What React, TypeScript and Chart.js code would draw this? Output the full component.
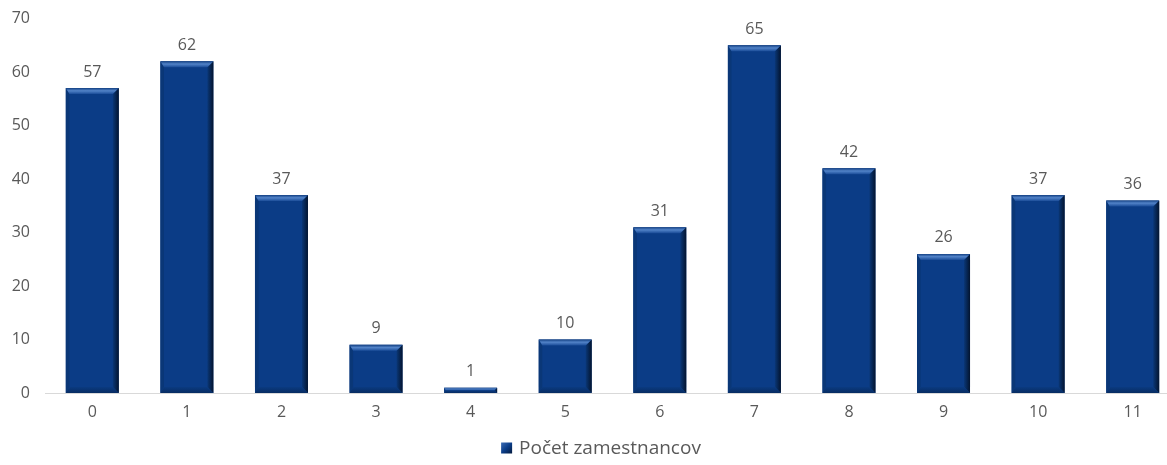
import React, { useEffect, useRef } from "react";
import { Chart, registerables } from "chart.js";

Chart.register(...registerables);

const categories = ["0", "1", "2", "3", "4", "5", "6", "7", "8", "9", "10", "11"];
const employees = [57, 62, 37, 9, 1, 10, 31, 65, 42, 26, 37, 36];
const seriesLabel = "Počet zamestnancov";
const yTicksMax = 70;
const yStep = 10;

const FONT = "'Open Sans', 'Noto Sans', sans-serif";
const TEXT = "#595959";

const bevelPlugin = {
  id: "bevel",
  afterDatasetsDraw(chart: any) {
    const ctx = chart.ctx;
    const meta = chart.getDatasetMeta(0);
    meta.data.forEach((bar: any, i: number) => {
      const w = bar.width;
      const l = bar.x - w / 2;
      const r = bar.x + w / 2;
      const t = bar.y;
      const btm = bar.base;
      const h = btm - t;
      const b = Math.min(6, h / 2);
      ctx.save();
      // left
      ctx.beginPath();
      ctx.moveTo(l, t); ctx.lineTo(l + b * 0.6, t + b); ctx.lineTo(l + b * 0.6, btm - b); ctx.lineTo(l, btm); ctx.closePath();
      ctx.fillStyle = "#0a3777";
      ctx.fill();
      // right
      const gr = ctx.createLinearGradient(r - b, 0, r, 0);
      gr.addColorStop(0, "#0a3777");
      gr.addColorStop(1, "#03142f");
      ctx.beginPath();
      ctx.moveTo(r, t); ctx.lineTo(r, btm); ctx.lineTo(r - b, btm - b); ctx.lineTo(r - b, t + b); ctx.closePath();
      ctx.fillStyle = gr;
      ctx.fill();
      // bottom
      const gb = ctx.createLinearGradient(0, btm - b, 0, btm);
      gb.addColorStop(0, "#0a3a80");
      gb.addColorStop(1, "#072c62");
      ctx.beginPath();
      ctx.moveTo(l, btm); ctx.lineTo(r, btm); ctx.lineTo(r - b, btm - b); ctx.lineTo(l + b * 0.6, btm - b); ctx.closePath();
      ctx.fillStyle = gb;
      ctx.fill();
      // top
      const gt = ctx.createLinearGradient(0, t, 0, t + b);
      gt.addColorStop(0, "#123f82");
      gt.addColorStop(0.45, "#5283c8");
      gt.addColorStop(1, "#1a4c98");
      ctx.beginPath();
      ctx.moveTo(l, t); ctx.lineTo(r, t); ctx.lineTo(r - b, t + b); ctx.lineTo(l + b * 0.6, t + b); ctx.closePath();
      ctx.fillStyle = gt;
      ctx.fill();
      // value label
      ctx.fillStyle = TEXT;
      ctx.font = `16px ${FONT}`;
      ctx.textAlign = "center";
      ctx.textBaseline = "middle";
      ctx.fillText(String(employees[i]), bar.x, t - 16);
      ctx.restore();
    });
    // legend
    ctx.save();
    ctx.font = `19px ${FONT}`;
    const tw = ctx.measureText(seriesLabel).width;
    const box = 11;
    const gap = 7;
    const total = box + gap + tw;
    const cx = 601;
    const x0 = cx - total / 2;
    const cy = 448;
    const g = ctx.createLinearGradient(x0, cy - box / 2, x0 + box, cy + box / 2);
    g.addColorStop(0, "#3c6db5");
    g.addColorStop(0.5, "#0b3d88");
    g.addColorStop(1, "#041a3d");
    ctx.fillStyle = g;
    ctx.fillRect(x0, cy - box / 2, box, box);
    ctx.fillStyle = TEXT;
    ctx.textAlign = "left";
    ctx.textBaseline = "middle";
    ctx.fillText(seriesLabel, x0 + box + gap, cy + 1);
    ctx.restore();
  },
};

export default function App() {
  const ref = useRef<HTMLCanvasElement | null>(null);
  useEffect(() => {
    if (!ref.current) return;
    const chart = new Chart(ref.current, {
      type: "bar",
      data: {
        labels: categories,
        datasets: [
          {
            label: seriesLabel,
            data: employees,
            backgroundColor: "#0b3c86",
            borderWidth: 0,
            categoryPercentage: 1,
            barPercentage: 0.56,
          },
        ],
      },
      options: {
        responsive: false,
        animation: false,
        events: [],
        layout: { padding: { left: 0, right: 20, top: 18.5, bottom: 0 } },
        plugins: { legend: { display: false }, tooltip: { enabled: false } },
        scales: {
          x: {
            grid: { display: false, drawTicks: false },
            border: { display: true, color: "#d9d9d9", width: 1 },
            ticks: { color: TEXT, font: { family: FONT, size: 16 }, padding: 10 },
            afterFit(scale: any) {
              scale.height = 72;
              scale.paddingLeft = 0;
              scale.paddingRight = 0;
            },
          },
          y: {
            min: 0,
            max: yTicksMax,
            grid: { display: false, drawTicks: false },
            border: { display: false },
            ticks: { stepSize: yStep, color: TEXT, font: { family: FONT, size: 16 }, padding: 15 },
            afterFit(scale: any) {
              scale.width = 45;
              scale.paddingTop = 0;
              scale.paddingBottom = 0;
            },
          },
        },
      },
      plugins: [bevelPlugin],
    });
    return () => chart.destroy();
  }, []);
  return (
    <div
      style={{
        position: "fixed",
        left: 0,
        top: 0,
        width: 1167,
        height: 465,
        overflow: "hidden",
        background: "#ffffff",
      }}
    >
      <canvas ref={ref} width={1200} height={465} style={{ display: "block" }} />
    </div>
  );
}
